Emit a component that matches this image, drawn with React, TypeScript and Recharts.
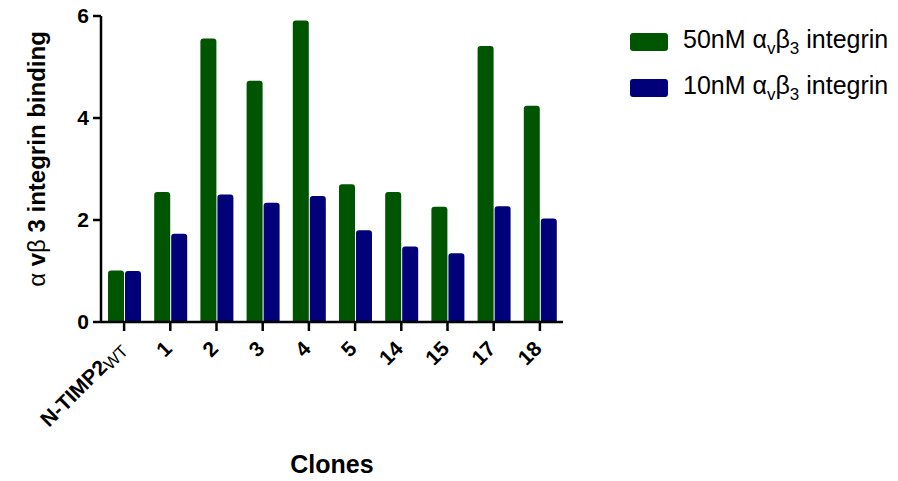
import { BarChart, Bar, XAxis, YAxis, Legend } from 'recharts'

const clones = ['N-TIMP2', '1', '2', '3', '4', '5', '14', '15', '17', '18']
const binding50 = [1.01, 2.55, 5.56, 4.73, 5.91, 2.7, 2.55, 2.26, 5.41, 4.24]
const binding10 = [1.0, 1.73, 2.5, 2.34, 2.47, 1.8, 1.48, 1.35, 2.27, 2.03]
const yTicks = [0, 2, 4, 6]

const series = [
  { key: 'b50', conc: '50nM', color: '#005500' },
  { key: 'b10', conc: '10nM', color: '#000078' },
]

const data = clones.map((name, i) => ({ name, b50: binding50[i], b10: binding10[i] }))

const FONT = '"Liberation Sans", Arial, sans-serif'

const XTick = ({ x, y, payload }: any) => (
  <g transform={`translate(${x + 3},${y + 17}) rotate(-45)`}>
    <text x={0} y={0} textAnchor="end" fontFamily={FONT} fontSize={21} fontWeight="bold" fill="#000">
      {payload.value === 'N-TIMP2' ? (
        <>
          N-TIMP2
          <tspan fontWeight="normal" fontSize={17} dy={3}>WT</tspan>
        </>
      ) : (
        payload.value
      )}
    </text>
  </g>
)

const YLabel = () => (
  <text
    transform="translate(45,159) rotate(-90)"
    textAnchor="middle"
    fontFamily={FONT}
    fontSize={24}
    fontWeight="bold"
    fill="#000"
  >
    <tspan fontWeight="normal">α</tspan> v<tspan fontWeight="normal">β</tspan> 3 integrin binding
  </text>
)

const XLabel = () => (
  <text x={332} y={473} textAnchor="middle" fontFamily={FONT} fontSize={25} fontWeight="bold" fill="#000">
    Clones
  </text>
)

const renderLegend = () => (
  <div style={{ fontFamily: FONT, fontSize: 25, color: '#000' }}>
    {series.map((s) => (
      <div key={s.key} style={{ display: 'flex', alignItems: 'center', height: 46 }}>
        <span style={{ width: 38, height: 18, background: s.color, borderRadius: 3, marginRight: 15, flexShrink: 0 }} />
        <span style={{ whiteSpace: 'nowrap' }}>
          {s.conc} α<sub style={{ fontSize: 17 }}>v</sub>β<sub style={{ fontSize: 17 }}>3</sub> integrin
        </span>
      </div>
    ))}
  </div>
)

export default function App() {
  return (
    <div style={{ position: 'absolute', left: 0, top: 0, background: '#fff' }}>
      <BarChart
        width={898}
        height={481}
        data={data}
        margin={{ top: 16, right: 335, left: 41, bottom: 9 }}
        barCategoryGap={7}
        barGap={1}
      >
        <XAxis
          dataKey="name"
          interval={0}
          height={150}
          tick={<XTick />}
          axisLine={{ stroke: '#000', strokeWidth: 2.5 }}
          tickLine={{ stroke: '#000', strokeWidth: 2.5 }}
          tickSize={9}
          label={<XLabel />}
        />
        <YAxis
          width={60}
          domain={[0, 6]}
          ticks={yTicks}
          tick={{ fill: '#000', fontSize: 21, fontWeight: 'bold', fontFamily: FONT }}
          axisLine={{ stroke: '#000', strokeWidth: 2.5 }}
          tickLine={{ stroke: '#000', strokeWidth: 2.5 }}
          tickSize={8}
          tickMargin={4}
          label={<YLabel />}
        />
        <Legend
          layout="horizontal"
          verticalAlign="middle"
          align="center"
          content={renderLegend}
          wrapperStyle={{ left: 630, top: 19, width: 268 }}
        />
        {series.map((s) => (
          <Bar
            key={s.key}
            dataKey={s.key}
            fill={s.color}
            radius={[3, 3, 0, 0]}
            isAnimationActive={false}
          />
        ))}
      </BarChart>
    </div>
  )
}
